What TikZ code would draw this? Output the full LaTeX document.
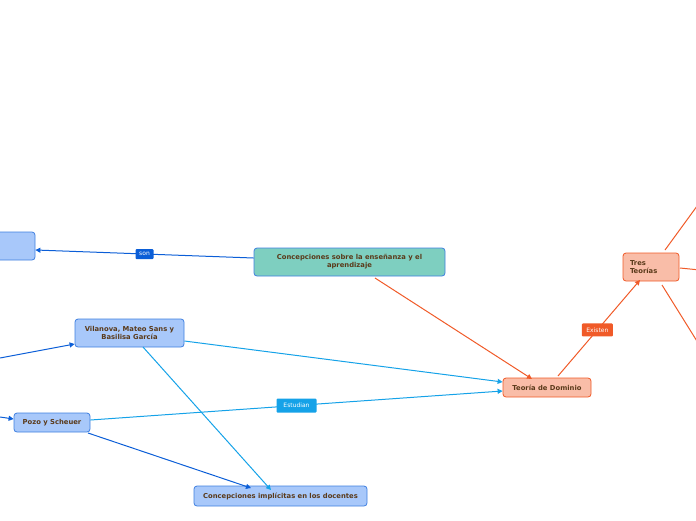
\documentclass[tikz,border=0pt]{standalone}
\usepackage{fontspec}
\setmainfont{DejaVu Sans}
\usetikzlibrary{arrows.meta}
\definecolor{bluefill}{HTML}{A8C8FA}
\definecolor{blueline}{HTML}{3F7FE0}
\definecolor{tealfill}{HTML}{7ECFC0}
\definecolor{orfill}{HTML}{F9BDA8}
\definecolor{orline}{HTML}{F05A28}
\definecolor{txt}{HTML}{5A3A1A}
\definecolor{darkblue}{HTML}{0B5ED7}
\definecolor{lightblue}{HTML}{15A2E8}
\tikzset{
  box/.style={draw=blueline, fill=bluefill, rounded corners=3pt, line width=0.8pt, text=txt, font=\bfseries\fontsize{6.8}{8}\selectfont, align=center, inner sep=0pt},
  obox/.style={box, draw=orline, fill=orfill},
  tbox/.style={box, fill=tealfill},
  darr/.style={draw=darkblue, line width=1pt, -{Triangle[length=5pt,width=5pt]}},
  larr/.style={draw=lightblue, line width=1pt, -{Triangle[length=5pt,width=5pt]}},
  oarr/.style={draw=orline, line width=1pt, -{Triangle[length=5pt,width=5pt]}},
  oline/.style={draw=orline, line width=1pt},
  lbl/.style={fill=#1, text=white, font=\fontsize{6}{7}\selectfont, inner sep=0pt, minimum height=12pt, rounded corners=1pt},
}
\begin{document}
\begin{tikzpicture}[x=1pt,y=-1pt]
\useasboundingbox (0,0) rectangle (696,520);
\begin{scope}
\clip (0,0) rectangle (696,520);
\node[box, minimum width=50pt, minimum height=28pt] (left) at (10,246) {};
\end{scope}
\node[tbox, minimum width=191pt, minimum height=28pt] (cse) at (349.5,262) {Concepciones sobre la enseñanza y el\\aprendizaje};
\node[box, minimum width=109pt, minimum height=28pt] (vil) at (129.5,333) {Vilanova, Mateo Sans y\\Basilisa García};
\node[box, minimum width=76pt, minimum height=19pt] (pozo) at (52,422.5) {Pozo y Scheuer};
\node[box, minimum width=173pt, minimum height=20pt] (cid) at (280.5,496) {Concepciones implícitas en los docentes};
\node[obox, minimum width=88pt, minimum height=19pt] (td) at (547,387.5) {Teoría de Dominio};
\node[obox, minimum width=56pt, minimum height=28pt, align=left, text width=42pt] (tres) at (651,267) {Tres\\Teorías};

\coordinate (l1) at (0,358);
\coordinate (l2) at (0,417);
\coordinate (r1) at (700,202);
\coordinate (r2) at (700,270);
\coordinate (r3) at (700,346);

\draw[darr] (cse.west |- 0,258) -- node[lbl=darkblue, minimum width=18pt, minimum height=10pt] {son} (left.east |- 0,250);
\draw[oarr] (375,278) -- (532,379);
\draw[larr] (vil.east |- 0,341) -- (td.west |- 0,382);
\draw[larr] (143,347) -- (271,490);
\draw[larr] (pozo.east |- 0,420) -- node[lbl=lightblue, minimum width=40pt, minimum height=14pt] {Estudian} (td.west |- 0,391);
\draw[darr] (88,433) -- (251,488);
\draw[darr] (l1) -- (vil.west |- 0,344);
\draw[darr] (l2) -- (pozo.west |- 0,419);
\draw[oarr] (558,376) -- node[lbl=orline, minimum width=31pt, minimum height=13pt, pos=0.48] {Existen} (640,280);
\draw[oline] (665,250) -- (r1);
\draw[oline] (680,268) -- (r2);
\draw[oline] (662,285) -- (r3);
\end{tikzpicture}
\end{document}
